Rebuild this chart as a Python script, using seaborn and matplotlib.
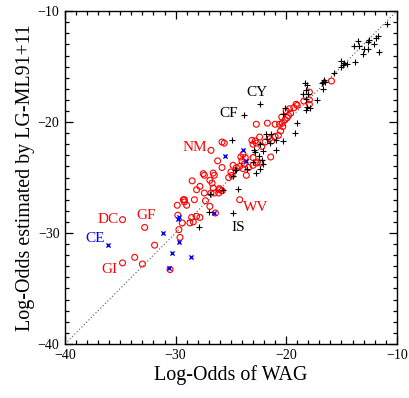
import matplotlib
matplotlib.use("Agg")
import matplotlib.pyplot as plt
import seaborn as sns
import pandas as pd
from matplotlib.ticker import MultipleLocator

# black "+" points
plus_wag = [-10.9, -11.67, -11.9, -12.5, -12.6, -12.1, -13.5, -13.9, -13.4, -12.6, -13.0, -11.6, -13.06,
            -15.0, -14.75, -14.86, -15.0, -14.5, -13.8, -15.7, -16.6, -16.7, -16.8, -16.5, -18.3, -18.1,
            -16.7, -18.2, -18.0, -17.2, -18.2, -17.8, -18.2, -20.1, -22.4, -23.8, -24.9, -18.5, -18.1,
            -20.3, -19.0, -19.2, -20.3, -20.9, -21.4, -21.7, -21.5, -21.85, -22.4, -20.9, -22.1, -22.8,
            -22.5, -22.2, -23.0, -22.1, -22.4, -24.5, -22.9, -24.6, -23.5, -24.8, -22.7, -24.4, -25.7,
            -26.9, -24.8, -27.0, -27.9]
plus_lg = [-11.2, -12.2, -12.4, -12.6, -12.8, -13.0, -12.7, -13.1, -13.1, -13.4, -13.4, -13.7, -13.85,
           -14.5, -14.65, -14.9, -15.05, -14.8, -14.6, -15.6, -16.2, -16.4, -16.5, -16.4, -16.5, -16.7,
           -17.0, -17.1, -17.5, -18.0, -17.9, -18.7, -18.9, -18.7, -18.35, -19.4, -21.6, -17.45, -18.6,
           -19.3, -20.1, -21.0, -21.7, -21.6, -21.1, -21.5, -21.9, -21.05, -22.0, -22.5, -22.6, -22.7,
           -23.1, -23.4, -23.6, -23.8, -24.2, -24.3, -22.55, -24.3, -24.2, -24.9, -24.6, -26.0, -26.15,
           -26.5, -28.2, -28.1, -29.5]

# red open circles
circ_wag = [-15.9, -17.9, -18.4, -17.9, -19.1, -17.9, -19.7, -19.0, -19.3, -20.0, -19.6, -19.8, -19.9,
            -20.1, -20.4, -20.35, -20.6, -20.3, -21.0, -21.7, -22.7, -20.5, -20.7, -21.0, -21.3, -21.5,
            -21.9, -22.4, -22.7, -23.0, -22.8, -22.2, -23.1, -23.9, -23.7, -23.8, -23.0, -22.6, -22.3,
            -21.4, -24.8, -24.5, -23.9, -25.8, -25.6, -26.8, -26.2, -25.8, -27.5, -26.6, -26.9, -26.7,
            -28.5, -27.8, -27.4, -26.6, -26.05, -25.8, -26.5, -28.3, -29.2, -29.2, -29.0, -29.85, -24.2,
            -25.2, -24.9, -25.0, -24.1, -24.0, -24.2, -22.7, -23.0, -23.4, -27.8, -28.1, -28.55, -29.8,
            -32.8, -31.9, -33.7, -33.0, -30.5, -29.7, -29.6, -29.4, -28.7, -28.4, -29.3, -28.1, -26.9,
            -27.3, -26.4, -26.8, -26.1, -26.0, -34.8, -34.8, -23.6, -27.4, -26.5]
circ_lg = [-16.3, -17.3, -18.1, -18.0, -18.4, -18.4, -18.8, -18.5, -18.7, -19.0, -19.2, -19.4, -19.6,
           -19.8, -19.55, -20.1, -20.2, -20.4, -20.2, -20.1, -20.2, -20.8, -21.2, -21.3, -21.7, -21.5,
           -21.8, -21.35, -21.9, -22.0, -21.7, -22.2, -21.65, -22.9, -23.2, -23.8, -23.2, -23.6, -23.7,
           -23.15, -23.9, -24.1, -24.2, -21.8, -21.9, -22.55, -23.5, -24.1, -24.65, -24.6, -25.25, -25.5,
           -25.3, -25.8, -26.4, -25.95, -26.0, -26.2, -26.4, -27.0, -27.0, -27.2, -27.5, -27.5, -27.0,
           -25.0, -24.8, -24.5, -23.15, -23.5, -24.0, -23.7, -23.9, -24.1, -28.6, -28.5, -28.6, -28.4,
           -29.5, -31.1, -32.2, -32.8, -33.3, -29.7, -30.4, -29.1, -29.1, -29.0, -27.0, -26.1, -27.6,
           -27.1, -28.2, -26.4, -26.4, -26.1, -28.8, -32.7, -24.8, -24.8, -24.8]

# blue "x" points
cross_wag = [-23.9, -23.6, -25.5, -26.5, -29.75, -31.1, -29.7, -29.7, -30.3, -28.6, -30.6, -36.1]
cross_lg = [-22.5, -23.5, -23.1, -28.2, -28.7, -30.0, -28.6, -30.8, -31.8, -32.2, -33.2, -31.1]

# annotations
lab_text = ["CY", "CF", "NM", "DC", "GF", "CE", "GI", "WV", "IS"]
lab_x = [-22.67, -25.17, -28.25, -36.14, -32.68, -37.29, -36.02, -22.73, -24.33]
lab_y = [-17.36, -19.19, -22.3, -28.77, -28.47, -30.48, -33.27, -27.66, -29.52]
lab_col = ["black", "black", "red", "red", "red", "blue", "red", "red", "black"]

plus_df = pd.DataFrame({"wag": plus_wag, "lg": plus_lg})
circ_df = pd.DataFrame({"wag": circ_wag, "lg": circ_lg})
cross_df = pd.DataFrame({"wag": cross_wag, "lg": cross_lg})

sns.set_style("ticks")
plt.rcParams["font.family"] = ["Liberation Serif", "DejaVu Serif"]
plt.rcParams["text.color"] = "black"
plt.rcParams["axes.labelcolor"] = "black"
plt.rcParams["xtick.color"] = "black"
plt.rcParams["ytick.color"] = "black"

fig, ax = plt.subplots(figsize=(4.09, 3.98), dpi=100)
fig.subplots_adjust(left=0.159, right=0.970, top=0.972, bottom=0.136)

ax.plot([-40, -10], [-40, -10], ls=(0, (1, 2)), color="#555555", lw=0.8, zorder=1)

sns.scatterplot(data=plus_df, x="wag", y="lg", marker="+", color="black", s=24,
                linewidth=0.8, ax=ax, zorder=3)
sns.scatterplot(data=circ_df, x="wag", y="lg", marker="o", facecolors="none",
                edgecolor="red", s=18, linewidth=0.8, ax=ax, zorder=2)
sns.scatterplot(data=cross_df, x="wag", y="lg", marker="x", color="blue", s=9,
                linewidth=1.0, ax=ax, zorder=4)

for t, x, y, c in zip(lab_text, lab_x, lab_y, lab_col):
    ax.text(x, y, t, color=c, fontsize=11, ha="center", va="center")

ax.set_xlim(-40, -10)
ax.set_ylim(-40, -10)
ax.xaxis.set_major_locator(MultipleLocator(10))
ax.yaxis.set_major_locator(MultipleLocator(10))
ax.xaxis.set_minor_locator(MultipleLocator(1))
ax.yaxis.set_minor_locator(MultipleLocator(1))
ax.tick_params(which="both", direction="in", top=True, right=True, width=0.9)
ax.tick_params(which="major", length=6, labelsize=10, pad=4)
ax.tick_params(which="minor", length=3)
for sp in ax.spines.values():
    sp.set_visible(True)
    sp.set_linewidth(1.0)
    sp.set_color("black")

ax.set_xlabel("Log-Odds of WAG", fontsize=14.4, labelpad=2)
ax.set_ylabel("Log-Odds estimated by LG-ML91+11", fontsize=14.4, labelpad=2)

fig.savefig("out.png", dpi=100)
